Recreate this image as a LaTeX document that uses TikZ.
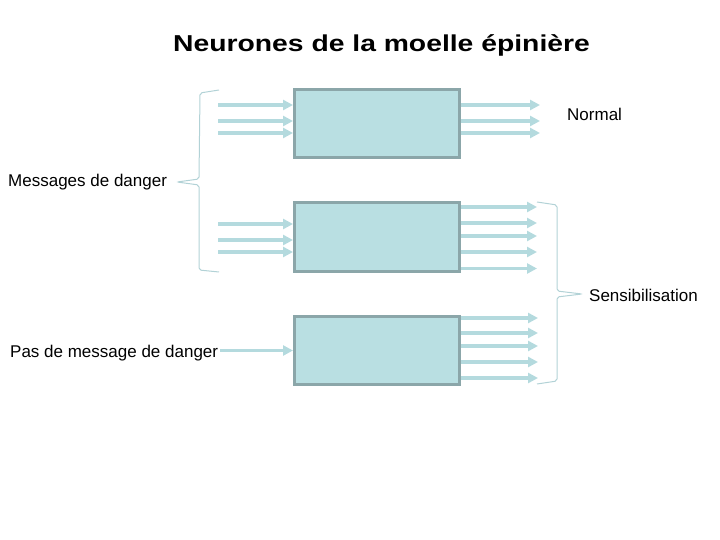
\documentclass[tikz,border=0pt]{standalone}
\usepackage{fontspec}
\setmainfont{Liberation Sans}
\newfontfamily\titlefont{Liberation Sans}[FakeStretch=1.23]
\usetikzlibrary{arrows.meta}
\definecolor{boxfill}{HTML}{B9DFE2}
\definecolor{boxline}{HTML}{8BA6A9}
\definecolor{arrowc}{HTML}{B4DADE}
\definecolor{bracec}{HTML}{B2D2D6}
\tikzset{
  neuron/.style={draw=boxline, fill=boxfill, line width=3pt, minimum width=165pt, minimum height=68pt, inner sep=0pt},
  fiber/.style={draw=arrowc, line width=3.2pt, -{Triangle[length=10pt,width=10pt]}},
  bracel/.style={draw=bracec, line width=1pt, rounded corners=2pt},
  lbl/.style={inner sep=0pt, font=\fontsize{17}{19}\selectfont},
  ttl/.style={inner sep=0pt, font=\titlefont\bfseries\fontsize{23}{26}\selectfont}
}
\begin{document}
\begin{tikzpicture}[x=1pt,y=-1pt]
\useasboundingbox (0,0) rectangle (720,540);
\node[ttl, anchor=base west] (title) at (173,52) {Neurones de la moelle épinière};

\node[neuron] (b1) at (377,123.5) {};
\node[neuron] (b2) at (377,237) {};
\node[neuron] (b3) at (377,350.5) {};

% inputs box 1
\foreach \y [count=\i] in {105,121,133} {
  \coordinate (i1\i) at (218,\y);
  \draw[fiber] (i1\i) -- (b1.west |- i1\i);
}
% outputs box 1
\foreach \y [count=\i] in {105,121,133} {
  \coordinate (o1\i) at (540,\y);
  \draw[fiber] (b1.east |- o1\i) -- (o1\i);
}
% inputs box 2
\foreach \y [count=\i] in {224,240,252} {
  \coordinate (i2\i) at (218,\y);
  \draw[fiber] (i2\i) -- (b2.west |- i2\i);
}
% outputs box 2
\foreach \y [count=\i] in {207,223,236,252,268.5} {
  \coordinate (o2\i) at (537,\y);
  \draw[fiber] (b2.east |- o2\i) -- (o2\i);
}
% outputs box 3
\foreach \y [count=\i] in {318,333,346,362,378} {
  \coordinate (o3\i) at (538,\y);
  \draw[fiber] (b3.east |- o3\i) -- (o3\i);
}

% labels
\node[lbl, anchor=base west] (normal) at (567,121) {Normal};
\node[lbl, anchor=base west] (danger) at (8,187) {Messages de danger};
\node[lbl, anchor=base west] (sens) at (589,301) {Sensibilisation};
\node[lbl, anchor=base west] (nodanger) at (10,357) {Pas de message de danger};

\draw[fiber, shorten <=2pt] (nodanger.east |- b3.west) -- (b3.west);

% left brace
\coordinate (lb) at (177,182);
\draw[bracel] (219,90) -- (200,93) -- (199,179) -- (lb) -- (199,185) -- (199,270) -- (219,272);
% right brace
\coordinate (rb) at (582,294);
\draw[bracel] (537,202) -- (557,205) -- (557,291) -- (rb) -- (557,297) -- (557,381) -- (537,384);
\end{tikzpicture}
\end{document}
